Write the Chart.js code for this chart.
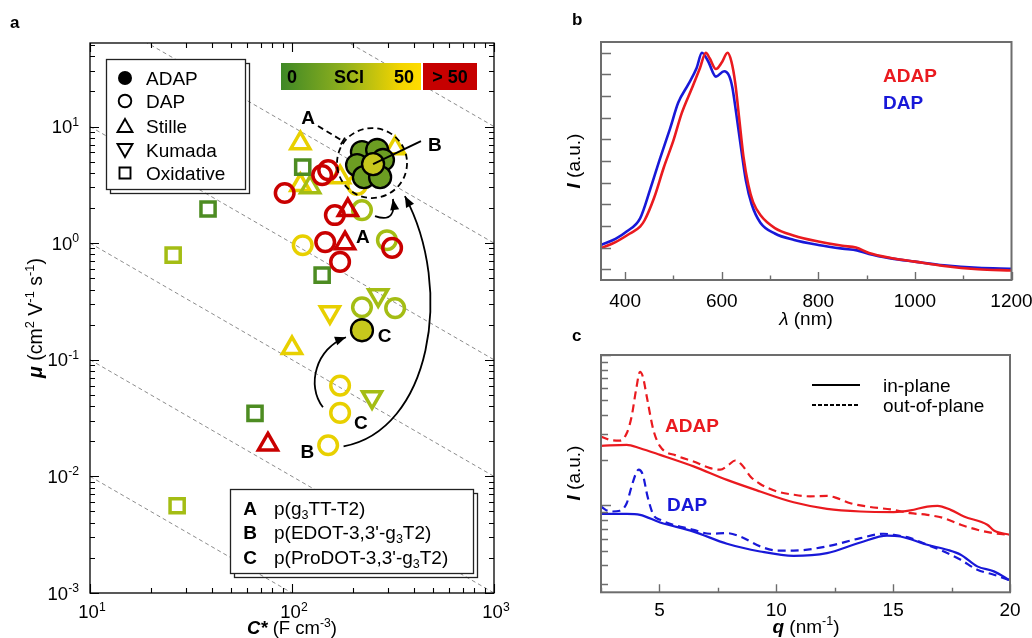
<!DOCTYPE html>
<html><head><meta charset="utf-8">
<script src="https://cdn.jsdelivr.net/npm/chart.js@4.4.1/dist/chart.umd.min.js"></script>
<style>
html,body{margin:0;padding:0;background:#fff;}
#wrap{position:relative;width:1032px;height:638px;overflow:hidden;}
canvas{position:absolute;left:0;top:0;}
</style></head><body>
<div id="wrap">
<canvas id="ca" width="1032" height="638"></canvas>
<canvas id="cb" width="1032" height="638"></canvas>
<canvas id="cc" width="1032" height="638"></canvas>
</div>
<script>
const FONT = '"Liberation Sans", Arial, Helvetica, sans-serif';

// ---------------- Panel a data (C* in F cm^-3, mu in cm2 V-1 s-1) ----------------
const capDecades = [10, 100, 1000];
const muDecades = [0.001, 0.01, 0.1, 1, 10];
const muMax = 52;
const muCapProducts = [0.1, 1, 10, 100, 1000, 10000];

const dapRed = [[92,2.69],[141,3.83],[151,4.23],[163,1.74],[146,1.02],[313,0.91],[173,0.69]];
const dapYellow = [[210,3.15],[113,0.96],[173,0.060],[173,0.035],[151,0.0185]];
const dapYellowGreen = [[222,1.92],[295,1.06],[222,0.282],[324,0.277]];
const stilleYellow = [[110,7.2],[324,6.5],[110,3.15],[173,3.68],[100,0.126]];
const stilleYellowGreen = [[123,3.02]];
const stilleRed = [[189,1.92],[183,1.0],[76,0.0188]];
const kumadaYellow = [[154,0.256]];
const kumadaYellowGreen = [[267,0.358],[249,0.0477]];
const oxidativeGreen = [[113,4.49],[38.4,1.96],[141,0.532],[65.6,0.0347]];
const oxidativeYellowGreen = [[25.8,0.79],[27,0.0056]];
const adapGreen = [[222,6.04],[264,6.29],[210,4.67],[282,5.16],[227,3.68],[273,3.68]];
const adapYellowGreen = [[252,4.76],[222,0.179]];

// annotation anchors in data units
const annoCircle = {x:249, y:4.86};
const annoLabels = [{t:'A',x:120,y:11.8},{t:'B',x:510,y:6.94},{t:'A',x:224,y:1.13},{t:'C',x:287,y:0.16},{t:'C',x:219,y:0.029},{t:'B',x:119,y:0.0161}];
const arrowA = [[257.6,1.706],[312.6,1.514],[323.6,1.845],[316,2.39]];
const arrowB = [[180,0.0181],[482,0.0248],[641,0.395],[362,2.53]];
const arrowC = [[142.3,0.0391],[117.2,0.0604],[131.5,0.1255],[185,0.156]];
const leaderA = [[134.5,10.1],[178.6,7.5]];
const leaderB = [[252,4.76],[435,7.5]];

// ---------------- Panel b data (UV-vis, normalised) ----------------
const uvLambdaDap = [350,380,403,431,452,472,493,510,531,548,559,572,588,605,615,622,630,640,650,662,680,710,750,800,850,880,905,950,1000,1060,1130,1200];
const uvDap = [0.112,0.140,0.174,0.235,0.37,0.51,0.65,0.77,0.855,0.93,1.0,0.96,0.89,0.915,0.895,0.84,0.72,0.56,0.41,0.30,0.215,0.165,0.135,0.112,0.095,0.087,0.07,0.05,0.035,0.018,0.006,0.002];
const uvLambdaAdap = [350,380,410,431,440,460,480,500,517,538,555,567,575,588,600,612,620,628,636,645,655,665,680,710,750,800,850,878,905,950,1000,1060,1130,1200];
const uvAdap = [0.097,0.125,0.165,0.197,0.225,0.33,0.47,0.595,0.72,0.835,0.93,1.0,0.975,0.925,0.955,1.0,0.96,0.86,0.70,0.52,0.39,0.31,0.25,0.19,0.155,0.128,0.108,0.10,0.075,0.052,0.035,0.015,0.0,-0.006];
const uvXMajor = [400,600,800,1000,1200];
const uvXMinor = [500,700,900,1100];
const uvYTicks = [0,0.1,0.2,0.3,0.4,0.5,0.6,0.7,0.8,0.9,1.0];

// ---------------- Panel c data (GIWAXS line cuts) ----------------
const qAdapIn = [2.49,3.6,4.17,5.03,6.46,7.89,9.31,10.74,12.17,13.6,15.03,15.74,16.46,16.9,17.46,18.03,19.03,19.31,20];
const iAdapIn = [2.49,2.53,2.40,2.17,1.82,1.48,1.24,1.05,0.95,0.912,0.904,0.927,0.984,0.995,0.935,0.845,0.745,0.682,0.638];
const qAdapOut = [2.49,2.89,3.31,3.6,3.81,4.0,4.17,4.29,4.46,4.74,5.03,5.74,6.46,7.17,7.6,7.96,8.24,8.53,8.89,9.31,10.03,10.74,11.46,12.17,12.6,13.17,13.89,15.03,15.74,16.46,17.17,17.89,18.6,19.31,20];
const iAdapOut = [2.87,2.73,2.70,3.02,3.90,5.86,7.74,7.18,5.28,3.18,2.47,2.14,1.96,1.77,1.73,1.86,1.99,1.86,1.56,1.39,1.24,1.18,1.15,1.16,1.12,1.035,0.984,0.935,0.889,0.867,0.824,0.745,0.690,0.655,0.638];
const qDapIn = [2.49,3.6,4.17,5.03,6.46,7.89,9.31,10.74,12.17,13.6,14.74,15.31,16.46,17.31,17.89,18.6,19.31,20];
const iDapIn = [0.881,0.881,0.867,0.771,0.671,0.557,0.495,0.463,0.483,0.568,0.630,0.622,0.548,0.508,0.471,0.394,0.365,0.318];
const qDapOut = [2.49,2.89,3.31,3.6,3.81,4.0,4.11,4.29,4.49,4.74,5.03,6.46,7.17,7.89,8.46,9.31,10.03,10.74,12.17,13.6,14.6,15.03,15.74,16.46,17.17,17.89,18.6,19.31,20];
const iDapOut = [0.984,0.912,0.923,1.035,1.34,1.64,1.73,1.60,1.15,0.867,0.804,0.689,0.649,0.655,0.622,0.535,0.502,0.502,0.535,0.607,0.649,0.638,0.607,0.548,0.495,0.436,0.374,0.347,0.318];
const qXMajor = [5,10,15,20];
const qXMinor = [2.5,7.5,12.5,17.5];
const giDecades = [1,10];
const giMin = 0.265, giMax = 10;

// ---------------- colours ----------------
const C_GREEN = '#4d8c22', C_YG = '#a4bd14', C_YEL = '#e8d000', C_RED = '#c90000';
const C_ADAP_FILL = '#6c9d22', C_ADAP_CENTER = '#c7c81c';
const LRED = '#ea1a1f', LBLUE = '#1818d8';
const FRAME_GRAY = '#6d6d6d';

// ---------------- helpers ----------------
function pts(arr){ return arr.map(([x,y]) => ({x, y})); }
function pairs(xs, ys){ return xs.map((x,i) => ({x, y: ys[i]})); }
function logTicks(decades, min, max){
  const out = [];
  const lo = decades[0] / 10;
  [lo, ...decades].forEach(d => {
    for (let k = 1; k <= 9; k++){
      const v = k * d;
      if (v >= min * 0.999 && v <= max * 1.001) out.push({v, major: k === 1});
    }
  });
  return out;
}
function drawRich(ctx, parts, x, y, size, align, color){
  const segs = parts.map(p => {
    const s = (p.sup || p.sub) ? size * 0.66 : size;
    const f = (p.i ? 'italic ' : '') + (p.b ? 'bold ' : '') + s + 'px ' + FONT;
    ctx.font = f;
    return {p, f, w: ctx.measureText(p.t).width, dy: p.sup ? -size * 0.4 : (p.sub ? size * 0.22 : 0)};
  });
  const total = segs.reduce((a, s) => a + s.w, 0);
  let cx = align === 'center' ? x - total / 2 : (align === 'right' ? x - total : x);
  ctx.textAlign = 'left'; ctx.textBaseline = 'alphabetic'; ctx.fillStyle = color || '#000';
  segs.forEach(s => { ctx.font = s.f; ctx.fillText(s.p.t, cx, y + s.dy); cx += s.w; });
}
function expLabel(v){
  const e = Math.round(Math.log10(v));
  return [{t:'10'},{t:String(e), sup:true}];
}
function arrowHead(ctx, x, y, ang, len, wid){
  ctx.beginPath();
  ctx.moveTo(x, y);
  ctx.lineTo(x - len*Math.cos(ang) + wid*Math.sin(ang), y - len*Math.sin(ang) - wid*Math.cos(ang));
  ctx.lineTo(x - len*Math.cos(ang) - wid*Math.sin(ang), y - len*Math.sin(ang) + wid*Math.cos(ang));
  ctx.closePath(); ctx.fill();
}

// ---------------- Panel a ----------------
function markerSet(arr, style, color, order, rot){
  return {data: pts(arr), pointStyle: style, pointRadius: style === 'rect' ? 10 : (style === 'triangle' ? 11 : 9.3),
    pointHoverRadius: 9, pointBorderWidth: 3.5, pointBorderColor: color, pointBackgroundColor: 'rgba(0,0,0,0)',
    pointRotation: rot || 0, order};
}
const diagSets = muCapProducts.map(p => ({
  data: [{x: capDecades[0], y: p / capDecades[0]}, {x: capDecades[capDecades.length-1], y: p / capDecades[capDecades.length-1]}],
  showLine: true, borderColor: '#8c8c8c', borderWidth: 1, borderDash: [4,3], pointRadius: 0, order: 90
}));
const setsA = [
  ...diagSets,
  markerSet(oxidativeGreen, 'rect', C_GREEN, 12),
  markerSet(oxidativeYellowGreen, 'rect', C_YG, 12),
  markerSet(stilleYellow, 'triangle', C_YEL, 14),
  markerSet(stilleYellowGreen, 'triangle', C_YG, 13),
  markerSet(kumadaYellow, 'triangle', C_YEL, 11, 180),
  markerSet(kumadaYellowGreen, 'triangle', C_YG, 11, 180),
  markerSet(dapYellow, 'circle', C_YEL, 10),
  markerSet(dapYellowGreen, 'circle', C_YG, 9),
  markerSet(stilleRed, 'triangle', C_RED, 8),
  markerSet(dapRed, 'circle', C_RED, 7),
  {data: pts(adapGreen), pointStyle:'circle', pointRadius: 11, pointBorderWidth: 2.3, pointBorderColor:'#000', pointBackgroundColor: C_ADAP_FILL, order: 2},
  {data: pts(adapYellowGreen), pointStyle:'circle', pointRadius: 11, pointBorderWidth: 2.3, pointBorderColor:'#000', pointBackgroundColor: C_ADAP_CENTER, order: 1}
];

const panelA = {
  id: 'panelA',
  afterDatasetsDraw(chart){
    const ctx = chart.ctx, sx = chart.scales.x, sy = chart.scales.y;
    const P = (x, y) => [sx.getPixelForValue(x), sy.getPixelForValue(y)];
    ctx.save();
    const [cx, cy] = P(annoCircle.x, annoCircle.y);
    ctx.strokeStyle = '#000'; ctx.lineWidth = 1.8; ctx.setLineDash([6,4]);
    ctx.beginPath(); ctx.arc(cx, cy, 35, 0, 2*Math.PI); ctx.stroke();
    const la0 = P(...leaderA[0]), la1 = P(...leaderA[1]);
    ctx.beginPath(); ctx.moveTo(...la0); ctx.lineTo(...la1); ctx.stroke();
    ctx.setLineDash([]);
    const angA = Math.atan2(la1[1]-la0[1], la1[0]-la0[0]);
    ctx.beginPath();
    ctx.moveTo(la1[0] + 4*Math.sin(angA), la1[1] - 4*Math.cos(angA));
    ctx.lineTo(la1[0] - 4*Math.sin(angA), la1[1] + 4*Math.cos(angA));
    ctx.stroke();
    ctx.lineWidth = 2;
    const lb0 = P(...leaderB[0]), lb1 = P(...leaderB[1]);
    ctx.beginPath(); ctx.moveTo(...lb0); ctx.lineTo(...lb1); ctx.stroke();
    ctx.fillStyle = '#000';
    [arrowA, arrowB, arrowC].forEach(a => {
      const q = a.map(p => P(...p));
      ctx.beginPath(); ctx.moveTo(...q[0]);
      ctx.bezierCurveTo(q[1][0], q[1][1], q[2][0], q[2][1], q[3][0], q[3][1]);
      ctx.lineWidth = 1.8; ctx.stroke();
      const ang = Math.atan2(q[3][1]-q[2][1], q[3][0]-q[2][0]);
      arrowHead(ctx, q[3][0], q[3][1], ang, 11, 4.5);
    });
    ctx.font = 'bold 19px ' + FONT; ctx.textAlign = 'center'; ctx.textBaseline = 'middle'; ctx.fillStyle = '#000';
    annoLabels.forEach(l => { const [x, y] = P(l.x, l.y); ctx.fillText(l.t, x, y + 1); });
    ctx.restore();
  },
  afterDraw(chart){
    const ctx = chart.ctx, a = chart.chartArea, sx = chart.scales.x, sy = chart.scales.y;
    ctx.save();
    ctx.lineWidth = 1.3; ctx.strokeStyle = '#222';
    ctx.strokeRect(110.5, 63.5, 139, 130);
    ctx.fillStyle = '#fff'; ctx.fillRect(106.5, 59.5, 139, 130); ctx.strokeRect(106.5, 59.5, 139, 130);
    const rows = [['filled','ADAP',78],['circle','DAP',101],['up','Stille',126],['down','Kumada',150],['square','Oxidative',173]];
    rows.forEach(([t, label, y]) => {
      const x = 125;
      ctx.strokeStyle = '#000'; ctx.fillStyle = '#000'; ctx.lineWidth = 1.9; ctx.beginPath();
      if (t === 'filled'){ ctx.arc(x, y, 7, 0, 2*Math.PI); ctx.fill(); }
      else if (t === 'circle'){ ctx.arc(x, y, 6.3, 0, 2*Math.PI); ctx.stroke(); }
      else if (t === 'up'){ ctx.moveTo(x, y-7); ctx.lineTo(x+7.5, y+6); ctx.lineTo(x-7.5, y+6); ctx.closePath(); ctx.stroke(); }
      else if (t === 'down'){ ctx.moveTo(x, y+7); ctx.lineTo(x+7.5, y-6); ctx.lineTo(x-7.5, y-6); ctx.closePath(); ctx.stroke(); }
      else { ctx.rect(x-5.5, y-5.5, 11, 11); ctx.stroke(); }
      ctx.font = '19px ' + FONT; ctx.textAlign = 'left'; ctx.textBaseline = 'alphabetic';
      ctx.fillText(label, 146, y + 7);
    });
    const g = ctx.createLinearGradient(281, 0, 421, 0);
    g.addColorStop(0, '#3e8826'); g.addColorStop(0.45, '#90b01d'); g.addColorStop(0.85, '#f2d400'); g.addColorStop(1, '#ffdc00');
    ctx.fillStyle = g; ctx.fillRect(281, 63, 140, 27);
    ctx.fillStyle = '#c60000'; ctx.fillRect(423, 63, 54, 27);
    ctx.fillStyle = '#000'; ctx.font = 'bold 18px ' + FONT; ctx.textBaseline = 'alphabetic'; ctx.textAlign = 'center';
    ctx.fillText('0', 292, 83); ctx.fillText('SCI', 349, 83); ctx.fillText('50', 404, 83); ctx.fillText('> 50', 450, 83);
    ctx.lineWidth = 1.3; ctx.strokeStyle = '#222';
    ctx.strokeRect(234.5, 493.5, 243, 84);
    ctx.fillStyle = '#fff'; ctx.fillRect(230.5, 489.5, 243, 84); ctx.strokeRect(230.5, 489.5, 243, 84);
    const leg2 = [
      ['A', [{t:'p(g'},{t:'3',sub:true},{t:'TT-T2)'}], 515],
      ['B', [{t:'p(EDOT-3,3\'-g'},{t:'3',sub:true},{t:'T2)'}], 539],
      ['C', [{t:'p(ProDOT-3,3\'-g'},{t:'3',sub:true},{t:'T2)'}], 564]
    ];
    leg2.forEach(([k, parts, y]) => {
      drawRich(ctx, [{t:k, b:true}], 250, y, 19, 'center');
      drawRich(ctx, parts, 274, y, 19, 'left');
    });
    ctx.strokeStyle = '#000'; ctx.lineWidth = 1.3;
    ctx.strokeRect(a.left, a.top, a.right - a.left, a.bottom - a.top);
    ctx.lineWidth = 1.1; ctx.beginPath();
    logTicks(capDecades, sx.min, sx.max).forEach(t => {
      const x = Math.round(sx.getPixelForValue(t.v)) + 0.5, L = t.major ? 9 : 5;
      ctx.moveTo(x, a.bottom); ctx.lineTo(x, a.bottom - L);
      ctx.moveTo(x, a.top); ctx.lineTo(x, a.top + L);
    });
    logTicks(muDecades, sy.min, sy.max).forEach(t => {
      const y = Math.round(sy.getPixelForValue(t.v)) + 0.5, L = t.major ? 9 : 5;
      ctx.moveTo(a.left, y); ctx.lineTo(a.left + L, y);
      ctx.moveTo(a.right, y); ctx.lineTo(a.right - L, y);
    });
    ctx.stroke();
    capDecades.forEach(v => drawRich(ctx, expLabel(v), sx.getPixelForValue(v) + 2, 618, 18.5, 'center'));
    muDecades.forEach(v => drawRich(ctx, expLabel(v), 79, sy.getPixelForValue(v) + 6.5, 18.5, 'right'));
    drawRich(ctx, [{t:'C*', b:true, i:true},{t:' (F cm'},{t:'-3', sup:true},{t:')'}], 292, 634, 18.5, 'center');
    ctx.save(); ctx.translate(42, 318); ctx.rotate(-Math.PI/2);
    drawRich(ctx, [{t:'μ', b:true, i:true},{t:' (cm'},{t:'2', sup:true},{t:' V'},{t:'-1', sup:true},{t:' s'},{t:'-1', sup:true},{t:')'}], 0, 0, 19.5, 'center');
    ctx.restore();
    ctx.font = 'bold 17px ' + FONT; ctx.textAlign = 'left'; ctx.fillStyle = '#000';
    ctx.fillText('a', 10, 28);
    ctx.restore();
  }
};

const common = {responsive: false, animation: false, devicePixelRatio: 1, events: [],
  plugins: {legend: {display: false}, tooltip: {enabled: false}}};

new Chart(document.getElementById('ca'), {
  type: 'scatter',
  data: {datasets: setsA},
  options: Object.assign({}, common, {
    layout: {padding: {left: 90, top: 43, right: 538, bottom: 45}},
    scales: {
      x: {type: 'logarithmic', min: capDecades[0], max: capDecades[capDecades.length-1], display: false},
      y: {type: 'logarithmic', min: muDecades[0], max: muMax, display: false}
    }
  }),
  plugins: [panelA]
});

// ---------------- Panel b ----------------
const panelB = {
  id: 'panelB',
  afterDraw(chart){
    const ctx = chart.ctx, a = chart.chartArea, sx = chart.scales.x, sy = chart.scales.y;
    ctx.save();
    ctx.strokeStyle = FRAME_GRAY; ctx.lineWidth = 2;
    ctx.strokeRect(a.left, a.top, a.right - a.left, a.bottom - a.top);
    ctx.lineWidth = 1.4; ctx.beginPath();
    uvYTicks.forEach(v => { const y = Math.round(sy.getPixelForValue(v)) + 0.5; ctx.moveTo(a.left, y); ctx.lineTo(a.left + 10, y); });
    uvXMajor.forEach(v => { const x = Math.round(sx.getPixelForValue(v)) + 0.5; ctx.moveTo(x, a.bottom); ctx.lineTo(x, a.bottom - 8); });
    uvXMinor.forEach(v => { const x = Math.round(sx.getPixelForValue(v)) + 0.5; ctx.moveTo(x, a.bottom); ctx.lineTo(x, a.bottom - 4.5); });
    ctx.stroke();
    ctx.fillStyle = '#000'; ctx.font = '19px ' + FONT; ctx.textAlign = 'center'; ctx.textBaseline = 'alphabetic';
    uvXMajor.forEach(v => ctx.fillText(String(v), sx.getPixelForValue(v), 307));
    drawRich(ctx, [{t:'λ', i:true},{t:' (nm)'}], 806, 325, 19, 'center');
    ctx.save(); ctx.translate(580, 161); ctx.rotate(-Math.PI/2);
    drawRich(ctx, [{t:'I', b:true, i:true},{t:' (a.u.)'}], 0, 0, 19, 'center');
    ctx.restore();
    ctx.font = 'bold 19px ' + FONT; ctx.textAlign = 'left';
    ctx.fillStyle = LRED; ctx.fillText('ADAP', 883, 82);
    ctx.fillStyle = LBLUE; ctx.fillText('DAP', 883, 109);
    ctx.fillStyle = '#000'; ctx.font = 'bold 17px ' + FONT;
    ctx.fillText('b', 572, 25);
    ctx.restore();
  }
};
new Chart(document.getElementById('cb'), {
  type: 'scatter',
  data: {datasets: [
    {data: pairs(uvLambdaDap, uvDap), showLine: true, borderColor: LBLUE, borderWidth: 2.6, pointRadius: 0, cubicInterpolationMode: 'monotone', order: 2},
    {data: pairs(uvLambdaAdap, uvAdap), showLine: true, borderColor: LRED, borderWidth: 2.6, pointRadius: 0, cubicInterpolationMode: 'monotone', order: 1}
  ]},
  options: Object.assign({}, common, {
    layout: {padding: {left: 601, top: 42, right: 20.5, bottom: 358}},
    scales: {
      x: {type: 'linear', min: 350, max: 1200, display: false},
      y: {type: 'linear', min: -0.05, max: 1.05, display: false}
    }
  }),
  plugins: [panelB]
});

// ---------------- Panel c ----------------
const panelC = {
  id: 'panelC',
  afterDraw(chart){
    const ctx = chart.ctx, a = chart.chartArea, sx = chart.scales.x, sy = chart.scales.y;
    ctx.save();
    ctx.strokeStyle = FRAME_GRAY; ctx.lineWidth = 2;
    ctx.strokeRect(a.left, a.top, a.right - a.left, a.bottom - a.top);
    ctx.lineWidth = 1.4; ctx.beginPath();
    logTicks(giDecades, giMin, giMax).forEach(t => {
      const y = Math.round(sy.getPixelForValue(t.v)) + 0.5; ctx.moveTo(a.left, y); ctx.lineTo(a.left + (t.major ? 10 : 7), y);
    });
    qXMajor.forEach(v => { const x = Math.round(sx.getPixelForValue(v)) + 0.5; ctx.moveTo(x, a.bottom); ctx.lineTo(x, a.bottom - 8); });
    qXMinor.forEach(v => { const x = Math.round(sx.getPixelForValue(v)) + 0.5; ctx.moveTo(x, a.bottom); ctx.lineTo(x, a.bottom - 4.5); });
    ctx.stroke();
    ctx.fillStyle = '#000'; ctx.font = '19px ' + FONT; ctx.textAlign = 'center'; ctx.textBaseline = 'alphabetic';
    qXMajor.forEach(v => ctx.fillText(String(v), sx.getPixelForValue(v), 616));
    drawRich(ctx, [{t:'q', b:true, i:true},{t:' (nm'},{t:'-1', sup:true},{t:')'}], 806, 633, 19, 'center');
    ctx.save(); ctx.translate(580, 473); ctx.rotate(-Math.PI/2);
    drawRich(ctx, [{t:'I', b:true, i:true},{t:' (a.u.)'}], 0, 0, 19, 'center');
    ctx.restore();
    ctx.strokeStyle = '#000'; ctx.lineWidth = 2;
    ctx.beginPath(); ctx.moveTo(812, 385); ctx.lineTo(860, 385); ctx.stroke();
    ctx.setLineDash([4,2]); ctx.beginPath(); ctx.moveTo(812, 405); ctx.lineTo(860, 405); ctx.stroke(); ctx.setLineDash([]);
    ctx.fillStyle = '#000'; ctx.font = '19px ' + FONT; ctx.textAlign = 'left';
    ctx.fillText('in-plane', 883, 392); ctx.fillText('out-of-plane', 883, 412);
    ctx.font = 'bold 19px ' + FONT;
    ctx.fillStyle = LRED; ctx.fillText('ADAP', 665, 432);
    ctx.fillStyle = LBLUE; ctx.fillText('DAP', 667, 511);
    ctx.fillStyle = '#000'; ctx.font = 'bold 17px ' + FONT;
    ctx.fillText('c', 572, 341);
    ctx.restore();
  }
};
const lineC = (xs, ys, color, dashed, order) => ({data: pairs(xs, ys), showLine: true, borderColor: color, borderWidth: 2.2,
  borderDash: dashed ? [8,5] : [], pointRadius: 0, cubicInterpolationMode: 'monotone', order});
new Chart(document.getElementById('cc'), {
  type: 'scatter',
  data: {datasets: [
    lineC(qDapIn, iDapIn, LBLUE, false, 4),
    lineC(qDapOut, iDapOut, LBLUE, true, 3),
    lineC(qAdapIn, iAdapIn, LRED, false, 2),
    lineC(qAdapOut, iAdapOut, LRED, true, 1)
  ]},
  options: Object.assign({}, common, {
    layout: {padding: {left: 601, top: 355, right: 22, bottom: 45.7}},
    scales: {
      x: {type: 'linear', min: 2.5, max: 20, display: false},
      y: {type: 'logarithmic', min: giMin, max: giMax, display: false}
    }
  }),
  plugins: [panelC]
});
</script>
</body></html>
